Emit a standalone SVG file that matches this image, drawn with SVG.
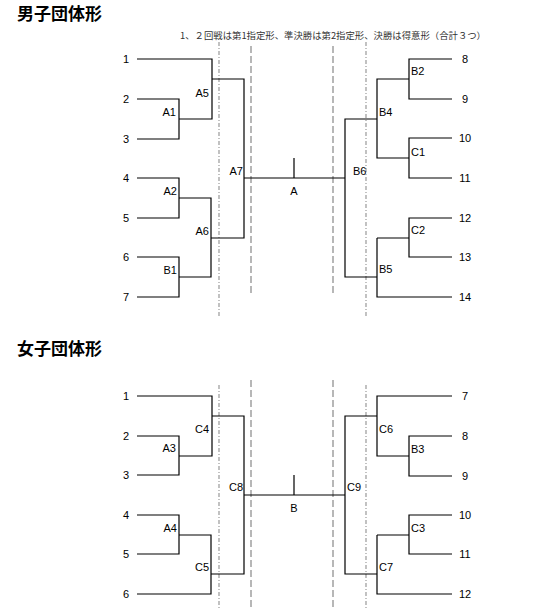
<svg xmlns="http://www.w3.org/2000/svg" width="552" height="610" viewBox="0 0 552 610">
<style>
text{font-family:"Liberation Sans",Arial,"Noto Sans CJK JP",sans-serif;font-size:11px;fill:#000}
.t{font-size:17px;font-weight:bold;font-family:"Noto Sans CJK JP","Liberation Sans",sans-serif}
.n{text-anchor:middle}
.e{text-anchor:end}
.note{font-size:9px;font-family:"Noto Sans CJK JP","Liberation Sans",sans-serif;fill:#333}
.br path{fill:none;stroke:#000;stroke-width:1.2}
.dash{stroke:#999;stroke-width:1.4;stroke-dasharray:7 3;fill:none}
.dd{stroke:#999;stroke-width:1.2;stroke-dasharray:4 2 1 2;fill:none}
</style>
<rect width="552" height="610" fill="#fff"/>
<text class="t" x="17" y="20">男子団体形</text>
<text class="t" x="17" y="355">女子団体形</text>
<text class="note" x="180" y="39" textLength="306" lengthAdjust="spacingAndGlyphs">1、２回戦は第1指定形、準決勝は第2指定形、決勝は得意形（合計３つ）</text>

<g id="guides">
<path class="dd" d="M219 42V318M366 42V318M219 385V610M366 385V610"/>
<path class="dash" d="M251 46V294M333 46V294M251 380V610M333 380V610"/>
</g>

<g id="connectors" class="br">
<path d="M137 59H212V119H179M137 99H179V139H137"/>
<path d="M212 79H244V238H211M137 178H179V218H137M179 198H211V277H179M137 257H179V297H137"/>
<path d="M244 178H345M294 158V178"/>
<path d="M452 59H409V99H452M409 79H377V158H409M452 138H409V178H452"/>
<path d="M377 119H345V277H377M377 238V297H452M377 238H409M452 218H409V257H452"/>
<path d="M137 396H212V456H179M137 436H179V475H137"/>
<path d="M212 416H244V574H211M137 515H179V554H137M179 535H211V594H137"/>
<path d="M244 495H345M294 475V495"/>
<path d="M452 396H377V456H409M452 436H409V476H452M377 416H345V574H377"/>
<path d="M377 535V594H452M377 535H409M452 515H409V554H452"/>
</g>

<g id="seeds-men">
<text class="n" x="126" y="63">1</text>
<text class="n" x="126" y="103">2</text>
<text class="n" x="126" y="143">3</text>
<text class="n" x="126" y="182">4</text>
<text class="n" x="126" y="222">5</text>
<text class="n" x="126" y="261">6</text>
<text class="n" x="126" y="301">7</text>
<text class="n" x="465" y="63">8</text>
<text class="n" x="465" y="103">9</text>
<text class="n" x="465" y="142">10</text>
<text class="n" x="465" y="182">11</text>
<text class="n" x="465" y="222">12</text>
<text class="n" x="465" y="261">13</text>
<text class="n" x="465" y="301">14</text>
</g>
<g id="A1"><text class="e" x="176" y="116">A1</text></g>
<g id="A5"><text class="e" x="209" y="97">A5</text></g>
<g id="A2"><text class="e" x="177" y="195">A2</text></g>
<g id="A6"><text class="e" x="209" y="235">A6</text></g>
<g id="B1"><text class="e" x="177" y="274">B1</text></g>
<g id="A7"><text class="e" x="243" y="175">A7</text></g>
<g id="A"><text class="n" x="294" y="195">A</text></g>
<g id="B6"><text x="353" y="175">B6</text></g>
<g id="B2"><text x="411" y="75">B2</text></g>
<g id="B4"><text x="379" y="116">B4</text></g>
<g id="C1"><text x="411" y="156">C1</text></g>
<g id="C2"><text x="411" y="234">C2</text></g>
<g id="B5"><text x="379" y="273">B5</text></g>

<g id="seeds-women">
<text class="n" x="126" y="400">1</text>
<text class="n" x="126" y="440">2</text>
<text class="n" x="126" y="479">3</text>
<text class="n" x="126" y="519">4</text>
<text class="n" x="126" y="558">5</text>
<text class="n" x="126" y="598">6</text>
<text class="n" x="465" y="400">7</text>
<text class="n" x="465" y="440">8</text>
<text class="n" x="465" y="480">9</text>
<text class="n" x="465" y="519">10</text>
<text class="n" x="465" y="558">11</text>
<text class="n" x="465" y="598">12</text>
</g>
<g id="C4"><text class="e" x="209" y="433">C4</text></g>
<g id="A3"><text class="e" x="176" y="452">A3</text></g>
<g id="C8"><text class="e" x="243" y="491">C8</text></g>
<g id="A4"><text class="e" x="177" y="532">A4</text></g>
<g id="C5"><text class="e" x="209" y="571">C5</text></g>
<g id="B"><text class="n" x="294" y="512">B</text></g>
<g id="C9"><text x="347" y="491">C9</text></g>
<g id="C6"><text x="379" y="433">C6</text></g>
<g id="B3"><text x="411" y="453">B3</text></g>
<g id="C3"><text x="411" y="532">C3</text></g>
<g id="C7"><text x="379" y="571">C7</text></g>
</svg>
